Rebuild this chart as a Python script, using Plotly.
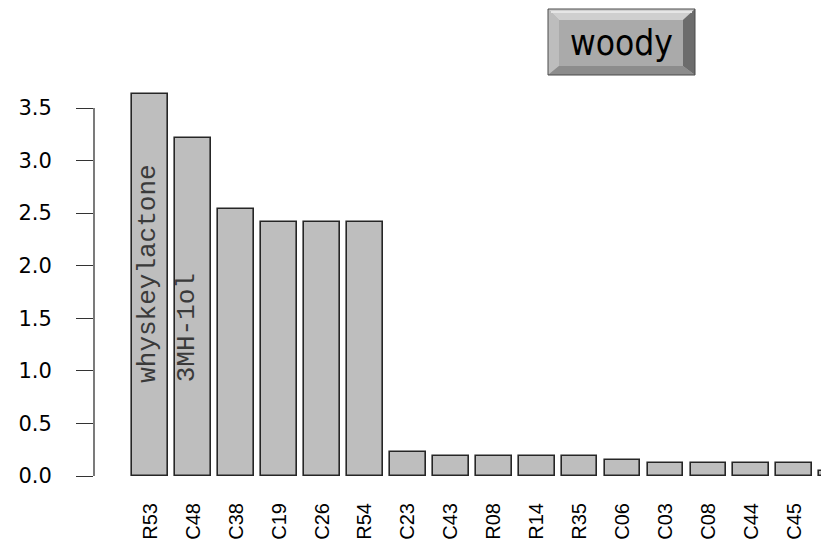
import plotly.graph_objects as go

# Odour-descriptor scores, sorted high to low
compounds = ["R53", "C48", "C38", "C19", "C26", "R54", "C23", "C43",
             "R08", "R14", "R35", "C06", "C03", "C08", "C44", "C45", ""]
scores = [3.63, 3.21, 2.54, 2.42, 2.42, 2.42, 0.23, 0.19,
          0.19, 0.19, 0.19, 0.155, 0.12, 0.12, 0.12, 0.12, 0.05]
y_ticks = [0.0, 0.5, 1.0, 1.5, 2.0, 2.5, 3.0, 3.5]
bar_notes = {0: "whyskeylactone", 1: "3MH-1ol"}
panel_title = "woody"

W, H = 821, 541
L, R, T, B = 94, 0, 60, 46
plot_w = W - L - R
plot_h = H - T - B

def px(x):
    return (x - L) / plot_w

def py(y):
    return (H - B - y) / plot_h

xpos = list(range(len(scores)))

fig = go.Figure()
fig.add_trace(go.Bar(
    x=xpos, y=scores, width=1 / 1.2,
    marker=dict(color="#bebebe", line=dict(color="#262626", width=1.6)),
    hoverinfo="skip",
))

# rotated labels inside the two tallest bars
for i, txt in bar_notes.items():
    fig.add_annotation(
        x=i, y=0.87, xref="x", yref="y", text=txt, textangle=-90,
        showarrow=False, xanchor="center", yanchor="bottom",
        xshift=-3 if i == 0 else -6,
        font=dict(family="Liberation Mono, Courier New, monospace", size=26, color="#3a3a3a"),
    )

shapes = []
# y axis line spans only the tick range
shapes.append(dict(type="line", xref="paper", yref="y", x0=0, x1=0,
                   y0=y_ticks[0], y1=y_ticks[-1], line=dict(color="#333333", width=1.3)))

# bevelled title button
ox0, ox1, oy0, oy1 = 548, 695, 9, 75
ix0, ix1, iy0, iy1 = 559, 683, 20, 66

def poly(pts, fill):
    d = "M " + " L ".join(f"{px(a):.5f},{py(b):.5f}" for a, b in pts) + " Z"
    return dict(type="path", xref="paper", yref="paper", path=d,
                fillcolor=fill, line=dict(width=0), layer="above")

shapes.append(poly([(ox0, oy0), (ox1, oy0), (ox1, oy1), (ox0, oy1)], "#a9a9a9"))
shapes.append(poly([(ox0, oy0), (ox1, oy0), (ix1, iy0), (ix0, iy0)], "#cfcfcf"))
shapes.append(poly([(ox0, oy0), (ix0, iy0), (ix0, iy1), (ox0, oy1)], "#bdbdbd"))
shapes.append(poly([(ox1, oy0), (ox1, oy1), (ix1, iy1), (ix1, iy0)], "#6c6c6c"))
shapes.append(poly([(ox0, oy1), (ox1, oy1), (ix1, iy1), (ix0, iy1)], "#8c8c8c"))
shapes.append(poly([(ix0, iy0), (ix1, iy0), (ix1, iy1), (ix0, iy1)], "#aaaaaa"))
shapes.append(dict(type="line", xref="paper", yref="paper",
                   x0=px(ox0 + 3), x1=px(ox1 - 3), y0=py(oy0 + 3), y1=py(oy0 + 3),
                   line=dict(color="#e6e6e6", width=2), layer="above"))
shapes.append(dict(type="rect", xref="paper", yref="paper",
                   x0=px(ox0), x1=px(ox1), y0=py(oy1), y1=py(oy0),
                   line=dict(color="#4a4a4a", width=1), layer="above"))

fig.add_annotation(
    x=px((ix0 + ix1) / 2), y=py(43), xref="paper", yref="paper",
    text=panel_title, showarrow=False, xanchor="center", yanchor="middle",
    font=dict(family="DejaVu Sans Condensed, Liberation Sans, sans-serif", size=35, color="black"),
)

px_per_unit = (476 - 108) / 3.5
y_max = (476 - T) / px_per_unit
y_min = -(H - B - 476) / px_per_unit
step = 42.93
c0 = 150.3
x_min = (L - c0) / step
x_max = (W - R - c0) / step

fig.update_layout(
    width=W, height=H,
    margin=dict(l=L, r=R, t=T, b=B, pad=0),
    paper_bgcolor="white", plot_bgcolor="white",
    showlegend=False, shapes=shapes, bargap=0,
    xaxis=dict(range=[x_min, x_max], tickvals=xpos[:-1], ticktext=compounds[:-1],
               tickangle=-90, ticks="", showline=False, showgrid=False, zeroline=False,
               automargin=False, ticklabelstandoff=3,
               tickfont=dict(family="Liberation Sans, Arial, sans-serif", size=20, color="black")),
    yaxis=dict(range=[y_min, y_max], tickvals=y_ticks,
               ticktext=[f"{v:.1f}" for v in y_ticks],
               ticks="outside", ticklen=17, tickwidth=1.3, tickcolor="#333333",
               showline=False, showgrid=False, zeroline=False,
               automargin=False, ticklabelstandoff=20,
               tickfont=dict(family="DejaVu Sans, Arial, sans-serif", size=21, color="black")),
)

fig.write_html("out.html")
